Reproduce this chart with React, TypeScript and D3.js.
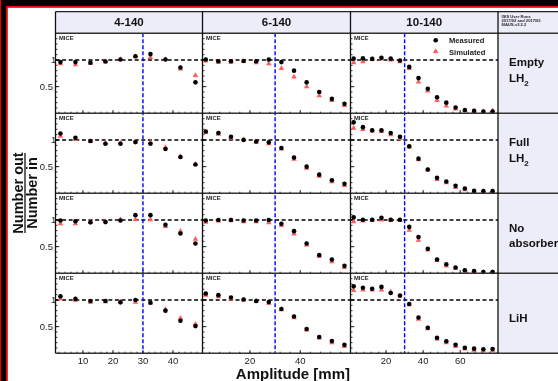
import React from "react";
import * as d3 from "d3";

// ---------- data ----------
const columnLabels = ["4-140", "6-140", "10-140"];
const rowLabels = [["Empty", "LH2"], ["Full", "LH2"], ["No", "absorber"], ["LiH"]];
const infoLines = ["ISIS User Runs", "2017/02 and 2017/03", "MAUS-v3.2.2"];
const legendLabels = ["Measured", "Simulated"];

const amp4 = [2.5, 7.5, 12.5, 17.5, 22.5, 27.5, 32.5, 37.5, 42.5, 47.5];
const amp6 = [2.5, 7.5, 12.5, 17.5, 22.5, 27.5, 32.5, 37.5, 42.5, 47.5, 52.5, 57.5];
const amp10 = [2.5, 7.5, 12.5, 17.5, 22.5, 27.5, 32.5, 37.5, 42.5, 47.5, 52.5, 57.5, 62.5, 67.5, 72.5, 77.5];

const xTicks4 = [10, 20, 30, 40];
const xTicks6 = [20, 40];
const xTicks10 = [20, 40, 60];
const yTickLabels = [0.5, 1];
const cutAmplitude = 30;

// Empty LH2
const measEmpty4 = [0.96, 0.96, 0.95, 0.97, 1.01, 1.07, 1.11, 1.01, 0.86, 0.58];
const simEmpty4 = [0.93, 0.91, 0.94, 0.97, 1.01, 1.06, 1.05, 1.01, 0.83, 0.71];
const measEmpty6 = [1.01, 0.975, 0.975, 0.98, 0.975, 1.01, 0.96, 0.8, 0.58, 0.4, 0.27, 0.18];
const simEmpty6 = [0.98, 0.96, 0.96, 0.975, 0.95, 0.93, 0.84, 0.68, 0.5, 0.33, 0.24, 0.15];
const measEmpty10 = [1.025, 1.03, 1.02, 1.04, 1.025, 0.99, 0.87, 0.66, 0.46, 0.3, 0.2, 0.11, 0.06, 0.045, 0.035, 0.035];
const simEmpty10 = [0.95, 0.97, 1.01, 1.025, 1.0, 0.97, 0.84, 0.59, 0.42, 0.24, 0.14, 0.08, 0.05, 0.04, 0.03, 0.05];
// Full LH2
const measFull4 = [1.12, 1.04, 0.98, 0.93, 0.93, 0.96, 0.93, 0.83, 0.68, 0.54];
const simFull4 = [1.07, 1.01, 0.975, 0.945, 0.945, 0.97, 0.955, 0.86, 0.69, 0.54];
const measFull6 = [1.16, 1.13, 1.06, 1.0, 0.97, 0.955, 0.85, 0.67, 0.5, 0.35, 0.245, 0.18];
const simFull6 = [1.14, 1.11, 1.04, 1.01, 0.96, 0.93, 0.83, 0.64, 0.47, 0.32, 0.22, 0.15];
const measFull10 = [1.33, 1.24, 1.18, 1.18, 1.13, 1.06, 0.88, 0.65, 0.445, 0.29, 0.22, 0.14, 0.09, 0.045, 0.04, 0.04];
const simFull10 = [1.22, 1.2, 1.17, 1.16, 1.1, 1.03, 0.87, 0.63, 0.44, 0.26, 0.2, 0.11, 0.07, 0.03, 0.03, 0.03];
// No absorber
const measNone4 = [0.99, 0.975, 0.955, 0.96, 0.99, 1.09, 1.09, 0.91, 0.745, 0.56];
const simNone4 = [0.93, 0.93, 0.96, 0.975, 1.005, 1.01, 1.005, 0.88, 0.79, 0.64];
const measNone6 = [0.99, 1.0, 1.0, 0.99, 0.99, 1.0, 0.93, 0.79, 0.56, 0.34, 0.26, 0.14];
const simNone6 = [0.96, 0.98, 0.99, 0.97, 0.97, 0.95, 0.9, 0.74, 0.53, 0.32, 0.22, 0.11];
const measNone10 = [1.05, 1.005, 1.005, 1.04, 1.005, 1.005, 0.87, 0.68, 0.46, 0.26, 0.17, 0.11, 0.056, 0.04, 0.025, 0.025];
const simNone10 = [0.97, 0.98, 0.99, 1.0, 0.99, 0.99, 0.81, 0.62, 0.44, 0.24, 0.14, 0.09, 0.04, 0.03, 0.02, 0.02];
// LiH
const measLiH4 = [1.07, 1.02, 0.98, 0.98, 0.955, 1.0, 0.95, 0.8, 0.61, 0.51];
const simLiH4 = [1.025, 0.995, 0.96, 0.97, 0.97, 0.96, 0.945, 0.825, 0.66, 0.545];
const measLiH6 = [1.12, 1.09, 1.045, 1.01, 0.98, 0.96, 0.83, 0.69, 0.455, 0.305, 0.23, 0.16];
const simLiH6 = [1.09, 1.06, 1.02, 1.0, 0.98, 0.94, 0.82, 0.67, 0.44, 0.29, 0.2, 0.13];
const measLiH10 = [1.255, 1.23, 1.21, 1.245, 1.13, 1.085, 0.925, 0.67, 0.48, 0.29, 0.225, 0.16, 0.105, 0.087, 0.075, 0.08];
const simLiH10 = [1.18, 1.19, 1.19, 1.19, 1.15, 1.07, 0.91, 0.64, 0.46, 0.27, 0.2, 0.13, 0.08, 0.06, 0.05, 0.05];

// ---------- layout ----------
const W = 558;
const H = 381;
const colX = [55.5, 202.5, 350.5, 498];
const headerTop = 11.7;
const rowTop0 = 33.3;
const rowH = 80;
const FONT = "'Liberation Sans', Arial, Helvetica, sans-serif";
const LAV = "#ededf9";
const RED = "#ff5c5c";

const colAmps = [amp4, amp6, amp10];
const colTicks = [xTicks4, xTicks6, xTicks10];
const colDomains: [number, number][] = [[0.85, 49.85], [1.2, 59.9], [0.8, 80.4]];
const colMinorStep = [2, 4, 4];
const meas = [
  [measEmpty4, measEmpty6, measEmpty10],
  [measFull4, measFull6, measFull10],
  [measNone4, measNone6, measNone10],
  [measLiH4, measLiH6, measLiH10],
];
const sims = [
  [simEmpty4, simEmpty6, simEmpty10],
  [simFull4, simFull6, simFull10],
  [simNone4, simNone6, simNone10],
  [simLiH4, simLiH6, simLiH10],
];

const triPath = d3.symbol().type(d3.symbolTriangle).size(13)() as string;

export default function App() {
  const xScales = colAmps.map((_, c) =>
    d3.scaleLinear().domain(colDomains[c]).range([colX[c], colX[c + 1]])
  );
  const yScales = rowLabels.map((_, r) =>
    d3.scaleLinear().domain([0, 1.5]).range([rowTop0 + (r + 1) * rowH, rowTop0 + r * rowH])
  );
  const gridBottom = rowTop0 + 4 * rowH;
  const yMinor = d3.range(0.1, 1.45, 0.1);

  return (
    <svg width={W} height={H} style={{ position: "fixed", left: 0, top: 0 }} fontFamily={FONT}>
      {/* outer frame */}
      <rect x={0} y={0} width={W} height={H} fill="#000" />
      <rect x={0} y={0} width={1} height={H} fill="#e00" />
      <rect x={6} y={6} width={W} height={H} fill="#e00" />
      <rect x={7.8} y={7.8} width={W} height={H} fill="#fff" />

      {/* header row */}
      <rect x={colX[0]} y={headerTop} width={colX[3] - colX[0]} height={rowTop0 - headerTop} fill={LAV} />
      <rect x={colX[3]} y={headerTop} width={W - colX[3]} height={gridBottom - headerTop} fill={LAV} />
      {columnLabels.map((lab, c) => (
        <text key={lab} x={(colX[c] + colX[c + 1]) / 2} y={26.2} textAnchor="middle" fontWeight="bold" fontSize={11.5} fill="#111">
          {lab}
        </text>
      ))}
      {infoLines.map((t, i) => (
        <text key={t} x={501.5} y={17.8 + i * 4.1} fontSize={4.1} fontWeight="bold" fill="#222">
          {t}
        </text>
      ))}

      {/* row labels */}
      {rowLabels.map((lines, r) => {
        const top = rowTop0 + r * rowH;
        const ys = lines.length === 1 ? [top + 48.7] : r === 2 ? [top + 38.3, top + 53.6] : [top + 33, top + 48.8];
        return lines.map((ln, i) => (
          <text key={r + "-" + i} x={509} y={ys[i]} fontSize={11.5} fontWeight="bold" fill="#111">
            {ln.endsWith("LH2") ? (
              <>
                LH<tspan fontSize={8} dy={3.5}>2</tspan>
              </>
            ) : (
              ln
            )}
          </text>
        ));
      })}

      {/* panels */}
      {rowLabels.map((_, r) => {
        const y = yScales[r];
        const top = rowTop0 + r * rowH;
        const bottom = top + rowH;
        return colAmps.map((amps, c) => {
          const x = xScales[c];
          const left = colX[c];
          const right = colX[c + 1];
          const minor = d3.range(colMinorStep[c], colDomains[c][1], colMinorStep[c]).filter((v) => v > colDomains[c][0]);
          return (
            <g key={r + "-" + c}>
              {/* y ticks */}
              {yMinor.map((v) => (
                <line key={"ym" + v} x1={left} x2={left + 2} y1={y(v)} y2={y(v)} stroke="#222" strokeWidth={0.9} />
              ))}
              {[0.5, 1].map((v) => (
                <line key={"yM" + v} x1={left} x2={left + 3.8} y1={y(v)} y2={y(v)} stroke="#222" strokeWidth={1} />
              ))}
              {/* x ticks */}
              {minor.map((v) => (
                <line key={"xm" + v} x1={x(v)} x2={x(v)} y1={bottom} y2={bottom - 1.6} stroke="#222" strokeWidth={0.9} />
              ))}
              {colTicks[c].map((v) => (
                <line key={"xM" + v} x1={x(v)} x2={x(v)} y1={bottom} y2={bottom - 3.2} stroke="#222" strokeWidth={1} />
              ))}
              {/* reference line */}
              <line x1={left} x2={right} y1={y(1)} y2={y(1)} stroke="#000" strokeWidth={1.5} strokeDasharray="4,2.6" />
              <text x={left + 3.5} y={top + 6.6} fontSize={5.8} fontWeight="bold" fill="#222">
                MICE
              </text>
              {/* simulated */}
              {amps.map((a, i) => (
                <path key={"s" + i} d={triPath} transform={`translate(${x(a)},${y(sims[r][c][i])})`} fill={RED} />
              ))}
              {/* measured */}
              {amps.map((a, i) => (
                <circle key={"m" + i} cx={x(a)} cy={y(meas[r][c][i])} r={2.3} fill="#000" />
              ))}
              {/* y tick labels */}
              {c === 0 &&
                yTickLabels.map((v) => (
                  <text key={"yl" + v} x={v === 1 ? 56.3 : 53} y={y(v) + 3.4} textAnchor="end" fontSize={9.5} fill="#222">
                    {v}
                  </text>
                ))}
              {/* x tick labels */}
              {r === 3 &&
                colTicks[c].map((v) => (
                  <text key={"xl" + v} x={x(v)} y={bottom + 11} textAnchor="middle" fontSize={9.5} fill="#222">
                    {v}
                  </text>
                ))}
            </g>
          );
        });
      })}

      {/* cut lines */}
      {xScales.map((x, c) => (
        <line key={"cut" + c} x1={x(cutAmplitude)} x2={x(cutAmplitude)} y1={rowTop0} y2={gridBottom} stroke="#0000ff" strokeWidth={1.4} strokeDasharray="4,2" />
      ))}

      {/* legend */}
      <circle cx={435.7} cy={40.3} r={2.3} fill="#000" />
      <path d={triPath} transform="translate(435.7,51.5)" fill={RED} />
      <text x={449} y={43.3} fontSize={7.6} fontWeight="bold" fill="#222">{legendLabels[0]}</text>
      <text x={449} y={54.5} fontSize={7.6} fontWeight="bold" fill="#222">{legendLabels[1]}</text>

      {/* grid lines */}
      <line x1={colX[0]} x2={W} y1={headerTop} y2={headerTop} stroke="#222" strokeWidth={1.3} />
      {d3.range(5).map((i) => (
        <line key={"h" + i} x1={colX[0]} x2={W} y1={rowTop0 + i * rowH} y2={rowTop0 + i * rowH} stroke="#333" strokeWidth={1.4} />
      ))}
      {colX.map((cx, i) => (
        <line key={"v" + i} x1={cx} x2={cx} y1={headerTop} y2={gridBottom} stroke="#111" strokeWidth={1.3} />
      ))}

      {/* axis titles */}
      <g transform="translate(25,193) rotate(-90)">
        <text x={0} y={-1.6} textAnchor="middle" fontSize={14.5} fontWeight="bold" fill="#111">Number out</text>
        <line x1={-40} x2={40} y1={0} y2={0} stroke="#111" strokeWidth={1.3} />
        <text x={0} y={11.8} textAnchor="middle" fontSize={14.5} fontWeight="bold" fill="#111">Number in</text>
      </g>
      <text x={350} y={379} textAnchor="end" fontSize={15} fontWeight="bold" fill="#111">Amplitude [mm]</text>
    </svg>
  );
}
